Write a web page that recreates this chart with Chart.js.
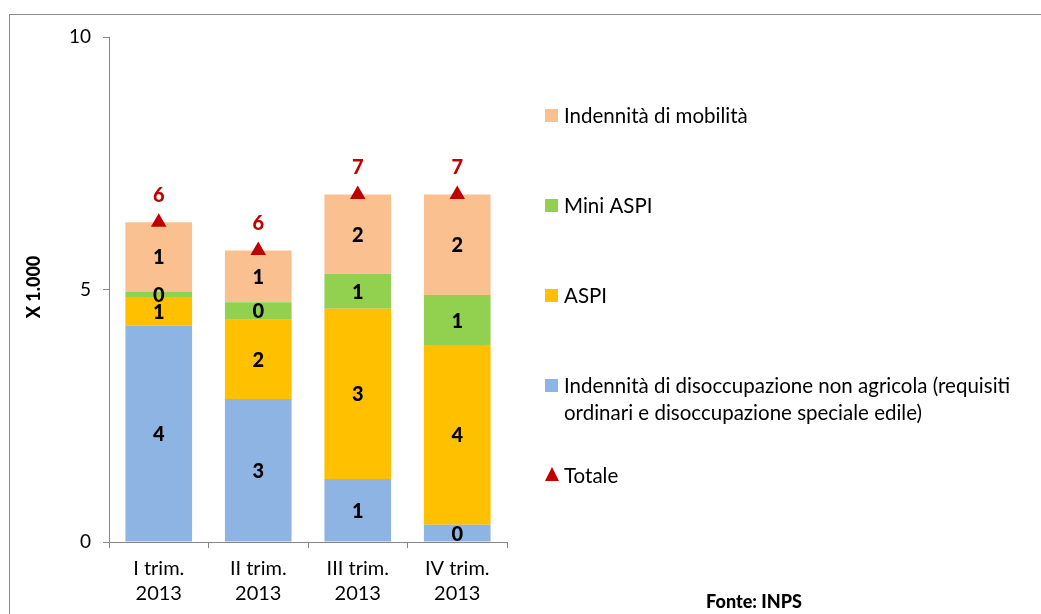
<!DOCTYPE html>
<html>
<head>
<meta charset="utf-8">
<script src="https://cdn.jsdelivr.net/npm/chart.js@4.4.1/dist/chart.umd.min.js"></script>
<style>
  html, body { margin: 0; padding: 0; background: #fff; }
  #wrap { position: relative; width: 1041px; height: 614px; overflow: hidden; }
  #frame { position: absolute; left: 9px; top: 14px; width: 1100px; height: 700px; border: 1px solid #8c8c8c; box-sizing: border-box; }
  canvas { position: absolute; left: 0; top: 0; }
</style>
</head>
<body>
<div id="wrap">
  <div id="frame"></div>
  <canvas id="c" width="1041" height="614"></canvas>
</div>
<script>
const categories = [["I trim.", "2013"], ["II trim.", "2013"], ["III trim.", "2013"], ["IV trim.", "2013"]];
const disoccupazione = [4.28, 2.83, 1.25, 0.34];
const aspi = [0.57, 1.57, 3.37, 3.56];
const miniAspi = [0.11, 0.35, 0.69, 0.99];
const mobilita = [1.37, 1.02, 1.57, 1.99];
const totale = [6.33, 5.77, 6.88, 6.88];
const yTicks = [0, 5, 10];

const FONT = 'Lato, "Open Sans", sans-serif';
const C_BLUE = '#8EB4E3', C_ORANGE = '#FFC000', C_GREEN = '#92D050', C_PEACH = '#FAC090', C_RED = '#C00000';

const legendItems = [
  { color: C_PEACH, lines: ['Indennità di mobilità'], y: 115 },
  { color: C_GREEN, lines: ['Mini ASPI'], y: 205 },
  { color: C_ORANGE, lines: ['ASPI'], y: 295 },
  { color: C_BLUE, lines: ['Indennità di disoccupazione non agricola (requisiti', 'ordinari e disoccupazione speciale edile)'], y: 385 },
  { color: C_RED, lines: ['Totale'], y: 475, triangle: true }
];

const extras = {
  id: 'extras',
  afterDatasetsDraw(chart) {
    const ctx = chart.ctx;
    ctx.save();
    ctx.textAlign = 'center';
    ctx.textBaseline = 'middle';
    ctx.font = '900 20px ' + FONT;
    ctx.fillStyle = '#000';
    for (let d = 0; d < 4; d++) {
      const meta = chart.getDatasetMeta(d);
      const data = chart.data.datasets[d].data;
      meta.data.forEach((bar, i) => {
        const cy = (bar.y + bar.base) / 2;
        ctx.fillText(String(Math.round(data[i])), bar.x, cy + 1);
      });
    }
    const tmeta = chart.getDatasetMeta(4);
    ctx.fillStyle = C_RED;
    tmeta.data.forEach((pt, i) => {
      ctx.fillText(String(Math.round(totale[i])), pt.x, pt.y - 27);
    });
    ctx.restore();
  },
  afterDraw(chart) {
    const ctx = chart.ctx;
    ctx.save();
    ctx.translate(34, 287);
    ctx.rotate(-Math.PI / 2);
    ctx.textAlign = 'center';
    ctx.textBaseline = 'middle';
    ctx.font = '900 18px ' + FONT;
    ctx.fillStyle = '#000';
    ctx.fillText('X 1.000', 0, 0);
    ctx.restore();

    ctx.save();
    ctx.font = '20.5px ' + FONT;
    ctx.textBaseline = 'middle';
    ctx.textAlign = 'left';
    legendItems.forEach(it => {
      ctx.fillStyle = it.color;
      if (it.triangle) {
        ctx.beginPath();
        ctx.moveTo(552, it.y - 8);
        ctx.lineTo(559, it.y + 6);
        ctx.lineTo(545, it.y + 6);
        ctx.closePath();
        ctx.fill();
      } else {
        ctx.fillRect(545, it.y - 6, 13, 13);
      }
      ctx.fillStyle = '#000';
      it.lines.forEach((ln, k) => ctx.fillText(ln, 564, it.y + 1 + k * 27.5));
    });
    ctx.font = '900 18px ' + FONT;
    ctx.textAlign = 'center';
    ctx.fillText('Fonte: INPS', 754, 602);
    ctx.restore();
  }
};

new Chart(document.getElementById('c'), {
  data: {
    labels: categories,
    datasets: [
      { type: 'bar', label: 'Indennità di disoccupazione non agricola', data: disoccupazione, backgroundColor: C_BLUE, stack: 's', order: 2, categoryPercentage: 1, barPercentage: 0.67 },
      { type: 'bar', label: 'ASPI', data: aspi, backgroundColor: C_ORANGE, stack: 's', order: 2, categoryPercentage: 1, barPercentage: 0.67 },
      { type: 'bar', label: 'Mini ASPI', data: miniAspi, backgroundColor: C_GREEN, stack: 's', order: 2, categoryPercentage: 1, barPercentage: 0.67 },
      { type: 'bar', label: 'Indennità di mobilità', data: mobilita, backgroundColor: C_PEACH, stack: 's', order: 2, categoryPercentage: 1, barPercentage: 0.67 },
      { type: 'line', label: 'Totale', data: totale, showLine: false, pointStyle: 'triangle', pointRadius: 9, pointHoverRadius: 9, backgroundColor: C_RED, borderColor: C_RED, borderWidth: 0, order: 1 }
    ]
  },
  options: {
    responsive: false,
    animation: false,
    events: [],
    layout: { padding: { left: 0, top: 37, right: 534, bottom: 0 } },
    plugins: { legend: { display: false }, tooltip: { enabled: false } },
    scales: {
      x: {
        stacked: true,
        offset: true,
        grid: { offset: true, drawOnChartArea: false, drawTicks: true, tickLength: 6, color: '#868686' },
        border: { display: true, color: '#868686', width: 1 },
        ticks: { font: { family: FONT, size: 20, lineHeight: 1.25 }, color: '#000', padding: 8, maxRotation: 0 },
        afterFit(s) { s.height = 72; }
      },
      y: {
        stacked: true,
        min: 0, max: 10,
        afterBuildTicks(s) { s.ticks = yTicks.map(v => ({ value: v })); },
        grid: { drawOnChartArea: false, drawTicks: true, tickLength: 6, color: '#868686' },
        border: { display: true, color: '#868686', width: 1 },
        ticks: { font: { family: FONT, size: 19 }, color: '#000', padding: 12 },
        afterFit(s) { s.width = 109; }
      }
    }
  },
  plugins: [extras]
});
</script>
</body>
</html>
